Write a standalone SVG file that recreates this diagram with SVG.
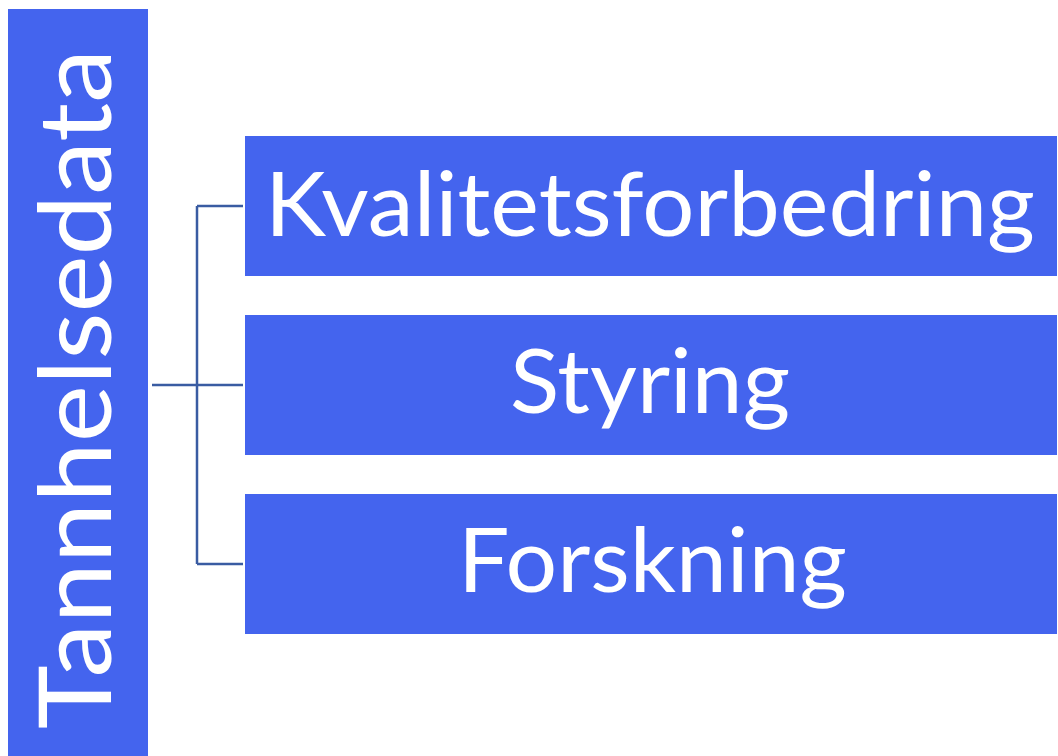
<svg xmlns="http://www.w3.org/2000/svg" width="1058" height="756" viewBox="0 0 1058 756">
<style>
.box{fill:#4464EE}
.lbl{fill:#FFFFFF;font-family:Lato,"Open Sans","Liberation Sans",sans-serif}
.con{stroke:#3A5CA2;stroke-width:2.5;fill:none}
</style>
<rect width="1058" height="756" fill="#FFFFFF"/>
<g id="connectors">
<path class="con" d="M152 385H243M197 206V564M197 206H243M197 564H243"/>
</g>
<g id="root">
<rect class="box" x="8" y="9" width="140" height="750"/>
<text class="lbl" transform="translate(111,729) rotate(-90)" font-size="100" textLength="680" lengthAdjust="spacingAndGlyphs">Tannhelsedata</text>
</g>
<g id="n1">
<rect class="box" x="245" y="136" width="812" height="140"/>
<text class="lbl" x="265" y="236" font-size="90" textLength="770" lengthAdjust="spacingAndGlyphs">Kvalitetsforbedring</text>
</g>
<g id="n2">
<rect class="box" x="245" y="315" width="812" height="140"/>
<text class="lbl" x="510" y="413" font-size="90" textLength="280" lengthAdjust="spacingAndGlyphs">Styring</text>
</g>
<g id="n3">
<rect class="box" x="245" y="494" width="812" height="140"/>
<text class="lbl" x="458" y="592" font-size="90" textLength="389" lengthAdjust="spacingAndGlyphs">Forskning</text>
</g>
</svg>
